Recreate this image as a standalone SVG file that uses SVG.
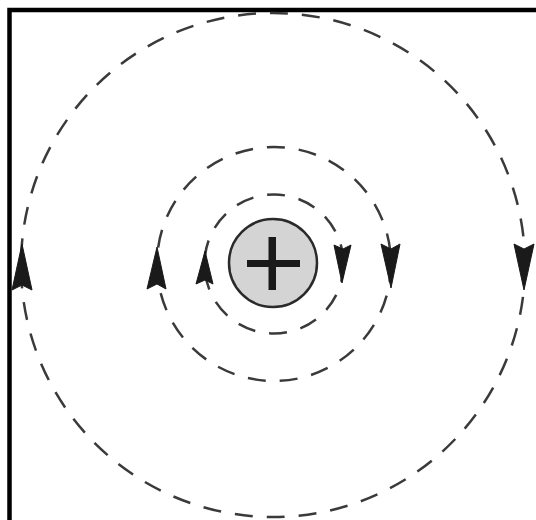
<svg xmlns="http://www.w3.org/2000/svg" width="536" height="520" viewBox="0 0 536 520">
  <style>
    .field { fill: none; stroke: #3a3a3a; stroke-width: 2.5; stroke-dasharray: 18 14; }
    .arrow { fill: #1a1a1a; stroke: #1a1a1a; stroke-width: 1; stroke-linejoin: round; }
    .frame { fill: none; stroke: #000; stroke-width: 4.5; }
  </style>
  <rect width="536" height="520" fill="#fff"/>
  <path class="frame" d="M9.5,520 V10 H536"/>
  <g id="connectors">
    <circle class="field" cx="273" cy="265" r="252"/>
    <circle class="field" cx="274" cy="264" r="117"/>
    <circle class="field" cx="274" cy="264" r="69.5"/>
  </g>
  <g id="arrows">
    <path class="arrow" d="M22,244 L32,290 L22,285 L12,290 Z"/>
    <path class="arrow" d="M524,290 L534,244 L524,249 L514,244 Z"/>
    <path class="arrow" d="M157,247 L166,289 L157,284 L147,289 Z"/>
    <path class="arrow" d="M391,288 L400,244 L391,249 L381,244 Z"/>
    <path class="arrow" d="M205,251 L213,284 L205,280 L196,284 Z"/>
    <path class="arrow" d="M342,283 L351,245 L343,249 L334,245 Z"/>
  </g>
  <g id="charge">
    <circle cx="273" cy="263" r="44" fill="#d4d4d4" stroke="#2a2a2a" stroke-width="2.5"/>
    <rect x="247" y="260" width="53" height="7" fill="#1a1a1a"/>
    <rect x="268.5" y="237" width="7.5" height="53" fill="#1a1a1a"/>
  </g>
</svg>
